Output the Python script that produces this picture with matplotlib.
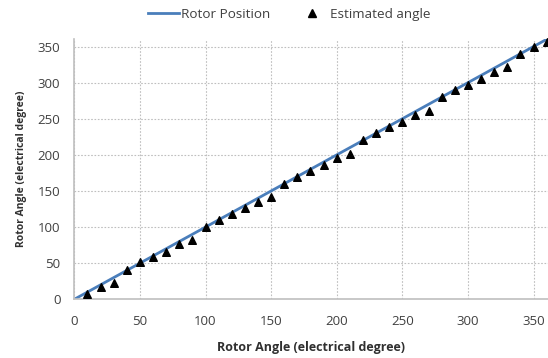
import matplotlib
matplotlib.use("Agg")
import matplotlib.pyplot as plt
from matplotlib.lines import Line2D

plt.rcParams['font.family'] = ['Open Sans', 'DejaVu Sans']

rotor_x = [0, 360]
rotor_y = [0, 360]
est_x = [10, 20, 30, 40, 50, 60, 70, 80, 90, 100, 110, 120, 130, 140, 150, 160, 170, 180,
         190, 200, 210, 220, 230, 240, 250, 260, 270, 280, 290, 300, 310, 320, 330, 340, 350, 360]
est_y = [7, 17, 22, 41, 51, 58, 66, 76, 82, 100, 110, 118, 126, 135, 141, 160, 170, 178,
         186, 195, 201, 220, 230, 238, 245, 255, 261, 280, 290, 297, 305, 315, 321, 340, 350, 356]
xticks = [0, 50, 100, 150, 200, 250, 300, 350]
yticks = [0, 50, 100, 150, 200, 250, 300, 350]

fig = plt.figure(figsize=(5.48, 3.58), dpi=100)
left, right, bottom, top = 74.3, 548, 299.3, 39.3
ax = fig.add_axes([left/548, 1-bottom/358, (right-left)/548, (bottom-top)/358])
ax.plot(rotor_x, rotor_y, color='#4a7ebb', lw=2, zorder=2)
ax.scatter(est_x, est_y, marker='^', color='black', s=30, zorder=3, clip_on=False)
ax.set_xlim(0, 361)
ax.set_ylim(0, 360)
ax.set_xticks(xticks)
ax.set_yticks(yticks)
ax.grid(True, color='#bfbfbf', linestyle=(0, (1.5, 1.5)), lw=0.8)
ax.set_axisbelow(True)
for s in ['top', 'right']:
    ax.spines[s].set_visible(False)
for s in ['left', 'bottom']:
    ax.spines[s].set_color('#bfbfbf')
    ax.spines[s].set_linewidth(1.2)
ax.tick_params(axis='x', length=0, labelsize=9.5, labelcolor='#404040', pad=11)
ax.tick_params(axis='y', length=0, labelsize=9.5, labelcolor='#404040', pad=10)
ax.set_xlabel('Rotor Angle (electrical degree)', fontsize=9, fontweight='bold', color='#303030', labelpad=10)
ax.set_ylabel('Rotor Angle (electrical degree)', fontsize=7.5, fontweight='bold', color='#303030', labelpad=8)

handles = [Line2D([0], [0], color='#4a7ebb', lw=2),
           Line2D([0], [0], marker='^', color='black', lw=0, markersize=5.5)]
fig.legend(handles, ['Rotor Position', 'Estimated angle'], loc='center left', bbox_to_anchor=(141/548, 1-14.6/358),
           ncol=2, frameon=False, fontsize=9.7, handlelength=2.3, handletextpad=0.2, columnspacing=1.9,
           borderpad=0, labelcolor='#404040')
fig.savefig('out.png', dpi=100)
